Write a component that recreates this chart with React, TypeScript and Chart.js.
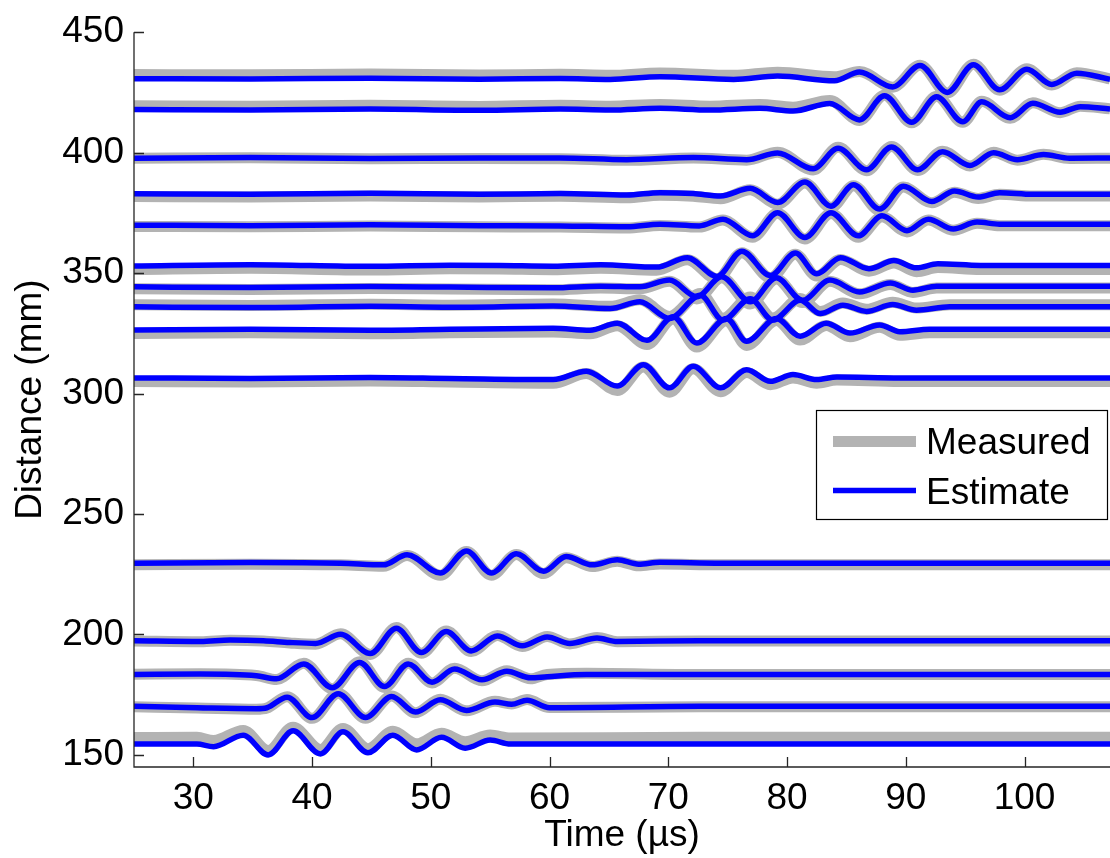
import React, { useEffect, useRef } from 'react';
import { Chart, registerables } from 'chart.js';

Chart.register(...registerables);

const FONT = "'Liberation Sans', Arial, Helvetica, sans-serif";
const GRAY = '#b3b3b3';
const BLUE = '#0000ff';
const AXIS = '#262626';

// Axis ticks: time in µs, distance in mm
const X_TICKS = [30, 40, 50, 60, 70, 80, 90, 100];
const Y_TICKS = [150, 200, 250, 300, 350, 400, 450];

// Sensor at 431 mm
const T431 = [25, 34.8, 44.9, 54.1, 60.9, 65.1, 69.3, 75.5, 79.2, 84.0, 86.1, 88.9, 91.2, 93.5, 95.7, 97.9, 100.2, 102.3, 104.4, 107.2];
const EST431 = [430.7, 430.6, 430.9, 430.5, 430.8, 430.4, 431.5, 430.4, 431.8, 429.8, 433.5, 427.3, 436.2, 425.0, 436.5, 426.1, 434.6, 428.3, 433.0, 430.5];
const MEAS431 = [432.4, 432.3, 432.6, 432.2, 432.5, 432.1, 433.1, 432.1, 433.4, 431.5, 433.7, 427.2, 436.3, 424.8, 436.7, 425.9, 434.8, 428.1, 433.2, 430.6];

// Sensor at 418 mm
const T418 = [25, 34.8, 44.9, 54.1, 60.9, 65.1, 69.3, 73.5, 77.7, 80.5, 83.6, 86.1, 88.2, 90.5, 92.6, 94.8, 96.4, 98.8, 100.7, 103.0, 104.7, 107.2];
const EST418 = [417.9, 417.7, 418.1, 417.6, 418.1, 417.7, 418.4, 417.7, 418.4, 417.3, 420.4, 413.6, 423.6, 412.6, 423.2, 412.8, 421.1, 414.5, 420.5, 416.8, 419.1, 418.1];
const MEAS418 = [419.5, 419.3, 419.7, 419.2, 419.7, 419.3, 420.0, 419.3, 420.0, 418.9, 421.6, 413.4, 423.8, 412.4, 423.4, 412.6, 421.3, 414.3, 420.7, 416.6, 419.3, 418.2];

// Sensor at 398 mm
const T398 = [25, 34.8, 44.9, 54.1, 60.9, 66.5, 72.1, 76.6, 79.2, 82.2, 84.3, 86.7, 88.8, 91.0, 93.1, 95.4, 97.4, 99.4, 101.6, 103.8, 107.2];
const EST398 = [397.7, 398.0, 397.6, 397.8, 397.8, 397.1, 398.0, 397.1, 399.9, 393.3, 401.8, 392.9, 402.4, 392.9, 400.4, 394.7, 400.0, 397.1, 399.2, 397.7, 397.8];
const MEAS398 = [397.7, 397.9, 397.5, 397.6, 397.5, 396.8, 397.8, 396.9, 400.2, 392.8, 402.2, 392.5, 402.6, 392.6, 400.6, 394.5, 400.2, 396.9, 399.3, 397.6, 397.7];

// Sensor at 382 mm
const T382 = [25, 34.8, 44.9, 54.1, 60.9, 66.5, 69.3, 72.1, 74.4, 76.9, 79.2, 81.5, 83.7, 85.6, 87.8, 89.8, 92.2, 94.1, 96.1, 97.9, 100.7, 107.2];
const EST382 = [382.9, 382.7, 383.1, 382.7, 383.0, 382.4, 383.4, 383.0, 382.0, 385.2, 379.3, 387.8, 377.8, 386.7, 376.6, 386.1, 379.7, 384.1, 381.6, 383.4, 382.7, 382.7];
const MEAS382 = [381.8, 381.6, 382.0, 381.6, 381.9, 381.3, 382.3, 381.9, 380.9, 384.6, 378.6, 387.4, 377.2, 386.3, 376.1, 385.7, 379.2, 383.6, 381.0, 382.7, 382.0, 382.0];

// Sensor at 370 mm
const T370 = [25, 34.8, 44.9, 54.1, 60.9, 66.5, 69.3, 72.6, 74.6, 77.1, 79.2, 81.5, 83.7, 86.0, 88.0, 90.1, 91.9, 94.0, 96.0, 97.9, 107.2];
const EST370 = [369.9, 369.7, 370.1, 369.7, 369.6, 369.2, 370.3, 369.6, 372.4, 365.5, 375.1, 364.8, 375.1, 365.5, 373.8, 367.6, 372.4, 368.3, 371.2, 370.3, 370.3];
const MEAS370 = [369.4, 369.2, 369.6, 369.2, 369.1, 368.7, 369.8, 369.1, 372.0, 364.9, 374.8, 364.2, 374.7, 364.9, 373.4, 367.1, 372.0, 367.8, 370.7, 369.7, 369.7];

// Sensor at 353 mm
const T353 = [25, 34.8, 44.9, 51.6, 55.8, 60.3, 64.3, 69.0, 71.6, 74.1, 76.2, 78.6, 80.7, 82.5, 84.5, 86.9, 89.0, 90.9, 92.7, 96.3, 107.2];
const EST353 = [353.0, 353.5, 352.8, 353.3, 353.2, 352.9, 353.5, 352.5, 356.4, 348.6, 359.1, 349.0, 358.3, 349.7, 356.4, 351.8, 355.2, 352.2, 353.9, 353.2, 353.2];
const MEAS353 = [351.5, 352.0, 351.3, 351.8, 351.7, 351.4, 352.0, 351.2, 355.6, 347.6, 358.5, 348.1, 357.8, 348.8, 355.7, 350.8, 354.2, 350.6, 352.3, 351.5, 351.5];

// Sensor at 343 mm
const T343 = [25, 34.8, 44.9, 51.6, 60.3, 64.3, 67.6, 70.1, 72.4, 74.5, 76.9, 79.1, 81.3, 83.6, 86.1, 88.7, 90.6, 92.6, 107.2];
const EST343 = [344.3, 344.0, 344.4, 344.2, 343.9, 344.6, 344.3, 347.1, 340.2, 348.5, 338.1, 348.1, 338.7, 347.1, 342.2, 345.9, 342.9, 344.6, 344.6];
const MEAS343 = [343.5, 343.2, 343.6, 343.4, 343.1, 343.8, 343.5, 346.6, 339.3, 348.1, 337.2, 347.6, 337.8, 346.6, 341.4, 345.3, 342.0, 343.8, 343.8];

// Sensor at 335 mm
const T335 = [25, 34.8, 44.9, 51.6, 60.3, 65.1, 67.6, 70.1, 72.7, 74.6, 76.9, 78.8, 81.1, 82.8, 84.7, 86.7, 88.9, 90.9, 93.7, 107.2];
const EST335 = [336.0, 335.7, 336.2, 335.8, 336.3, 335.3, 338.1, 331.2, 340.8, 330.5, 339.4, 330.5, 338.7, 333.2, 336.7, 334.1, 337.0, 334.6, 336.0, 336.0];
const MEAS335 = [336.9, 336.6, 337.1, 336.7, 337.2, 336.2, 338.9, 332.0, 341.5, 331.3, 340.1, 331.4, 339.5, 334.1, 337.6, 335.0, 337.9, 335.5, 336.9, 336.9];

// Sensor at 326 mm
const T326 = [25, 34.8, 44.9, 51.6, 60.3, 63.4, 65.7, 68.2, 70.4, 72.4, 74.9, 76.6, 79.1, 81.1, 83.3, 85.3, 87.8, 89.5, 92.0, 107.2];
const EST326 = [326.4, 326.7, 326.3, 326.7, 327.1, 326.3, 329.2, 322.1, 331.9, 321.0, 331.2, 321.7, 331.2, 323.8, 329.2, 325.1, 328.5, 325.7, 326.7, 326.7];
const MEAS326 = [324.9, 325.2, 324.8, 325.2, 325.6, 324.8, 328.2, 320.4, 331.0, 319.3, 330.3, 320.0, 330.3, 322.2, 328.3, 323.6, 327.5, 324.2, 325.2, 325.2];

// Sensor at 306 mm
const T306 = [25, 34.8, 44.9, 51.6, 60.3, 63.1, 65.7, 67.9, 70.1, 72.1, 74.4, 76.6, 78.6, 80.5, 82.5, 84.2, 89.5, 107.2];
const EST306 = [306.5, 306.3, 306.7, 306.3, 305.8, 309.3, 303.1, 312.0, 302.4, 311.3, 302.4, 309.9, 305.1, 307.9, 305.8, 306.9, 306.5, 306.5];
const MEAS306 = [305.0, 304.8, 305.2, 304.8, 304.3, 308.3, 301.3, 311.0, 300.6, 310.3, 300.8, 308.7, 303.7, 306.5, 304.3, 305.6, 305.0, 305.0];

// Sensor at 229 mm
const T229 = [25, 34.8, 42.4, 46.0, 48.0, 50.8, 53.0, 55.1, 57.2, 59.5, 61.4, 63.6, 65.7, 67.5, 69.3, 74.4, 107.2];
const EST229 = [229.6, 229.9, 229.6, 228.9, 233.1, 225.5, 234.7, 225.5, 233.5, 226.2, 232.4, 228.9, 231.0, 229.2, 230.0, 229.6, 229.6];
const MEAS229 = [228.9, 229.2, 228.9, 228.3, 232.8, 224.6, 234.4, 224.6, 233.2, 225.3, 231.9, 228.2, 230.4, 228.5, 229.3, 228.9, 228.9];

// Sensor at 197 mm
const T197 = [25, 30.6, 33.1, 35.9, 38.1, 40.3, 42.4, 44.9, 47.1, 49.2, 51.3, 53.4, 55.6, 57.7, 59.8, 61.7, 64.0, 65.7, 72.7, 107.2];
const EST197 = [197.4, 197.1, 197.7, 197.4, 196.7, 196.3, 200.1, 192.1, 202.6, 192.5, 201.2, 193.2, 199.4, 195.3, 199.0, 196.3, 198.5, 197.1, 197.4, 197.4];
const MEAS197 = [197.3, 197.0, 197.6, 197.3, 196.5, 196.0, 200.3, 191.7, 202.9, 192.2, 201.4, 192.9, 199.6, 195.0, 199.2, 196.1, 198.8, 197.0, 197.3, 197.3];

// Sensor at 183 mm
const T183 = [25, 30.6, 35.3, 37.0, 39.3, 41.7, 44.0, 46.1, 48.1, 50.1, 52.0, 54.3, 56.4, 58.4, 59.8, 63.1, 72.7, 107.2];
const EST183 = [183.4, 183.6, 182.9, 181.6, 187.8, 177.9, 188.4, 178.4, 187.8, 180.2, 185.7, 181.2, 184.7, 182.0, 182.5, 183.4, 183.4, 183.4];
const MEAS183 = [183.5, 183.7, 183.0, 181.3, 188.1, 177.5, 188.7, 178.0, 188.1, 179.9, 186.0, 180.8, 185.0, 181.6, 183.4, 183.9, 183.4, 183.4];

// Sensor at 170 mm
const T170 = [25, 30.3, 35.3, 36.2, 37.9, 40.0, 42.2, 44.5, 46.7, 48.7, 50.8, 53.0, 55.4, 56.8, 58.1, 60.0, 72.7, 107.2];
const EST170 = [170.2, 169.6, 169.2, 169.6, 174.0, 165.5, 175.4, 165.5, 174.3, 167.8, 172.9, 168.5, 172.0, 171.0, 172.7, 169.6, 170.2, 170.2];
const MEAS170 = [170.0, 169.5, 169.0, 169.5, 174.2, 165.2, 175.6, 165.2, 174.5, 167.5, 173.1, 168.3, 172.3, 171.2, 173.0, 169.7, 170.0, 170.0];

// Sensor at 155 mm
const T155 = [25, 30.3, 31.7, 34.2, 36.3, 38.4, 40.7, 42.6, 44.7, 46.8, 48.8, 50.9, 52.9, 55.0, 56.7, 72.7, 107.2];
const EST155 = [154.5, 154.5, 153.4, 158.2, 150.0, 160.0, 150.4, 159.6, 150.9, 158.2, 152.1, 157.3, 152.8, 156.2, 154.5, 154.5, 154.5];
const MEAS155 = [157.2, 157.3, 156.0, 160.2, 151.8, 161.5, 152.3, 161.0, 152.6, 159.8, 154.6, 159.0, 155.5, 158.3, 157.0, 157.3, 157.3];

const TRACES = [
  { t: T431, est: EST431, meas: MEAS431 },
  { t: T418, est: EST418, meas: MEAS418 },
  { t: T398, est: EST398, meas: MEAS398 },
  { t: T382, est: EST382, meas: MEAS382 },
  { t: T370, est: EST370, meas: MEAS370 },
  { t: T353, est: EST353, meas: MEAS353 },
  { t: T343, est: EST343, meas: MEAS343 },
  { t: T335, est: EST335, meas: MEAS335 },
  { t: T326, est: EST326, meas: MEAS326 },
  { t: T306, est: EST306, meas: MEAS306 },
  { t: T229, est: EST229, meas: MEAS229 },
  { t: T197, est: EST197, meas: MEAS197 },
  { t: T183, est: EST183, meas: MEAS183 },
  { t: T170, est: EST170, meas: MEAS170 },
  { t: T155, est: EST155, meas: MEAS155 },
];

const SERIES_LABELS = ['Measured', 'Estimate'];

// Axis lines with inward-pointing tick marks (drawn over the traces)
const axesPlugin = {
  id: 'inwardAxes',
  afterDatasetsDraw(chart: any) {
    const { ctx, chartArea, scales } = chart;
    const xs = scales.x;
    const ys = scales.y;
    const len = 10;
    ctx.save();
    ctx.strokeStyle = AXIS;
    ctx.lineWidth = 1.3;
    ctx.beginPath();
    ctx.moveTo(chartArea.left, chartArea.top);
    ctx.lineTo(chartArea.left, chartArea.bottom);
    ctx.lineTo(chartArea.right, chartArea.bottom);
    X_TICKS.forEach((v) => {
      const px = Math.round(xs.getPixelForValue(v)) + 0.5;
      ctx.moveTo(px, chartArea.bottom);
      ctx.lineTo(px, chartArea.bottom - len);
    });
    Y_TICKS.forEach((v) => {
      const py = Math.round(ys.getPixelForValue(v)) + 0.5;
      ctx.moveTo(chartArea.left, py);
      ctx.lineTo(chartArea.left + len, py);
    });
    ctx.stroke();
    ctx.restore();
  },
};

// Boxed legend inside the plot area
const legendPlugin = {
  id: 'boxLegend',
  afterDraw(chart: any) {
    const { ctx } = chart;
    const ds = chart.data.datasets;
    const meas = ds.find((d: any) => d.label === SERIES_LABELS[0]);
    const est = ds.find((d: any) => d.label === SERIES_LABELS[1]);
    const x0 = 816;
    const y0 = 410;
    const w = 291;
    const h = 109;
    ctx.save();
    ctx.fillStyle = '#ffffff';
    ctx.fillRect(x0, y0, w, h);
    ctx.strokeStyle = '#000000';
    ctx.lineWidth = 1.2;
    ctx.strokeRect(x0 + 0.5, y0 + 0.5, w, h);
    const rows = [
      { d: meas, y: 441.5, base: 454 },
      { d: est, y: 490.5, base: 503.5 },
    ];
    rows.forEach((r) => {
      ctx.beginPath();
      ctx.strokeStyle = r.d.borderColor;
      ctx.lineWidth = r.d.borderWidth;
      ctx.lineCap = 'butt';
      ctx.moveTo(833, r.y);
      ctx.lineTo(916, r.y);
      ctx.stroke();
      ctx.fillStyle = '#000000';
      ctx.font = `37px ${FONT}`;
      ctx.textBaseline = 'alphabetic';
      ctx.textAlign = 'left';
      ctx.fillText(r.d.label, 926, r.base);
    });
    ctx.restore();
  },
};

export default function App() {
  const ref = useRef<HTMLCanvasElement | null>(null);

  useEffect(() => {
    const canvas = ref.current;
    if (!canvas) return;

    const measured = TRACES.map((tr) => ({
      label: SERIES_LABELS[0],
      data: tr.t.map((t, i) => ({ x: t, y: tr.meas[i] })),
      borderColor: GRAY,
      borderWidth: 11,
      order: 2,
    }));
    const estimate = TRACES.map((tr) => ({
      label: SERIES_LABELS[1],
      data: tr.t.map((t, i) => ({ x: t, y: tr.est[i] })),
      borderColor: BLUE,
      borderWidth: 5.5,
      order: 1,
    }));

    const chart = new Chart(canvas, {
      type: 'line',
      data: { datasets: [...estimate, ...measured] as any },
      options: {
        animation: false,
        responsive: false,
        devicePixelRatio: 1,
        layout: { padding: { top: 27, right: 0, bottom: 0, left: 0 } },
        plugins: {
          legend: { display: false },
          tooltip: { enabled: false },
        },
        elements: {
          point: { radius: 0 },
          line: {
            cubicInterpolationMode: 'monotone',
            borderJoinStyle: 'round',
            borderCapStyle: 'butt',
            fill: false,
          },
        },
        scales: {
          x: {
            type: 'linear',
            min: 25,
            max: 107.2,
            afterBuildTicks: (s: any) => {
              s.ticks = X_TICKS.map((v) => ({ value: v }));
            },
            afterFit: (s: any) => {
              s.height = 91;
            },
            grid: { display: false, drawTicks: false, tickLength: 0 },
            border: { display: false },
            ticks: {
              autoSkip: false,
              maxRotation: 0,
              padding: 10,
              color: '#000000',
              font: { family: FONT, size: 37 },
            },
            title: {
              display: true,
              text: 'Time (µs)',
              color: '#000000',
              font: { family: FONT, size: 37 },
              padding: { top: 0, bottom: 0 },
            },
          },
          y: {
            type: 'linear',
            min: 145,
            max: 450,
            afterBuildTicks: (s: any) => {
              s.ticks = Y_TICKS.map((v) => ({ value: v }));
            },
            afterFit: (s: any) => {
              s.width = 134;
            },
            grid: { display: false, drawTicks: false, tickLength: 0 },
            border: { display: false },
            ticks: {
              autoSkip: false,
              padding: 10,
              color: '#000000',
              font: { family: FONT, size: 37 },
            },
            title: {
              display: true,
              text: 'Distance (mm)',
              color: '#000000',
              font: { family: FONT, size: 37 },
              padding: { top: 9, bottom: 0 },
            },
          },
        },
      } as any,
      plugins: [axesPlugin, legendPlugin],
    });

    return () => chart.destroy();
  }, []);

  return (
    <div style={{ position: 'fixed', left: 0, top: 0, width: 1110, height: 858, background: '#ffffff' }}>
      <canvas ref={ref} width={1110} height={858} style={{ display: 'block' }} />
    </div>
  );
}
